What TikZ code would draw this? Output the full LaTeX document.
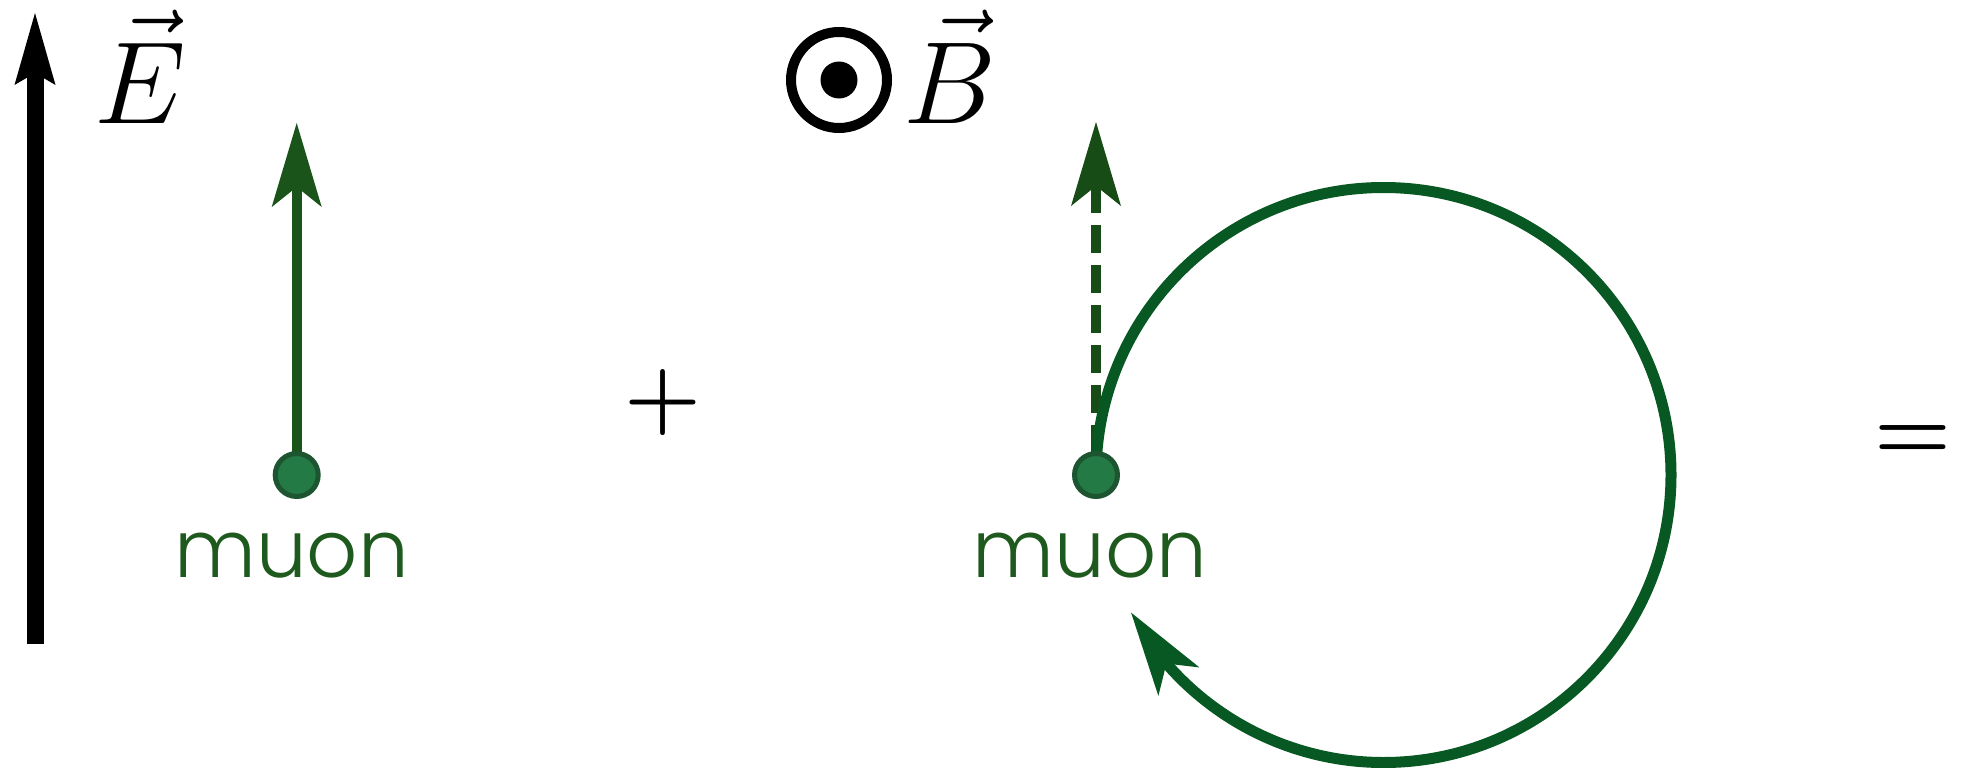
\RequirePackage{fix-cm}
\documentclass[tikz,border=0pt]{standalone}
\usepackage{fontspec}
\newfontfamily\muonfont{Poppins}[UprightFont=* Light]
\usetikzlibrary{arrows.meta,bending}
\definecolor{gArrow}{RGB}{27,84,27}
\definecolor{gText}{RGB}{30,90,30}
\definecolor{gDotFill}{RGB}{35,122,69}
\definecolor{gDotLine}{RGB}{28,85,48}
\definecolor{gCirc}{RGB}{7,88,34}
\definecolor{gDash}{RGB}{24,76,22}
\begin{document}
\begin{tikzpicture}[x=1pt,y=1pt,
  earrow/.style={line width=17pt, -{Stealth[length=72pt,width=41pt,inset=12pt,line width=0pt]}},
  garrow/.style={line width=10pt, -{Stealth[length=84pt,width=50pt,inset=20pt,line width=0pt]}},
  dotnode/.style={circle, draw=gDotLine, fill=gDotFill, line width=5pt, minimum size=43pt, inner sep=0pt},
  muonlbl/.style={text=gText, font=\muonfont\fontsize{80}{84}\selectfont, inner sep=0pt, anchor=base},
  symlbl/.style={font=\fontsize{117}{120}\selectfont, inner sep=0pt, anchor=base},
  oplbl/.style={font=\fontsize{88}{88}\selectfont\boldmath, inner sep=0pt, anchor=base}
]
\useasboundingbox (0,0) rectangle (1963,-768);

% E field
\coordinate (ebot) at (35,-644);
\coordinate (etop) at (35,-13);
\draw[earrow] (ebot) -- (etop);
\node[symlbl] (elbl) at (140,-123) {$\vec{E}$};

% muon 1
\coordinate (m1c) at (296.7,-475);
\coordinate (t1) at (296.7,-123);
\draw[garrow, draw=gArrow] (m1c) -- (t1);
\node[dotnode] (m1) at (m1c) {};
\node[muonlbl] (l1) at (291.5,-577) {muon};

% plus
\node[oplbl] (plus) at (663,-424) {$+$};

% B field
\node[circle, draw, line width=10pt, minimum size=96pt, inner sep=0pt] (bo) at (839,-80) {};
\node[circle, fill, minimum size=37pt, inner sep=0pt] (bd) at (bo) {};
\node[symlbl] (blbl) at (950,-123) {$\vec{B}$};

% muon 2
\coordinate (m2c) at (1096,-475);
\coordinate (t2) at (1096,-122);
\draw[garrow, draw=gDash, dash pattern=on 28pt off 12pt, dash phase=18pt] (m2c) -- (t2);
\draw[line width=11pt, draw=gCirc, -{Stealth[length=84pt,width=50pt,inset=22pt,line width=0pt,flex]}] (m2c) arc[start angle=180, end angle=-151.4, radius=287.5];
\node[dotnode] (m2) at (m2c) {};
\node[muonlbl] (l2) at (1090,-577) {muon};

% equals
\node[oplbl] (eq) at (1913,-459.5) {$=$};
\end{tikzpicture}
\end{document}
